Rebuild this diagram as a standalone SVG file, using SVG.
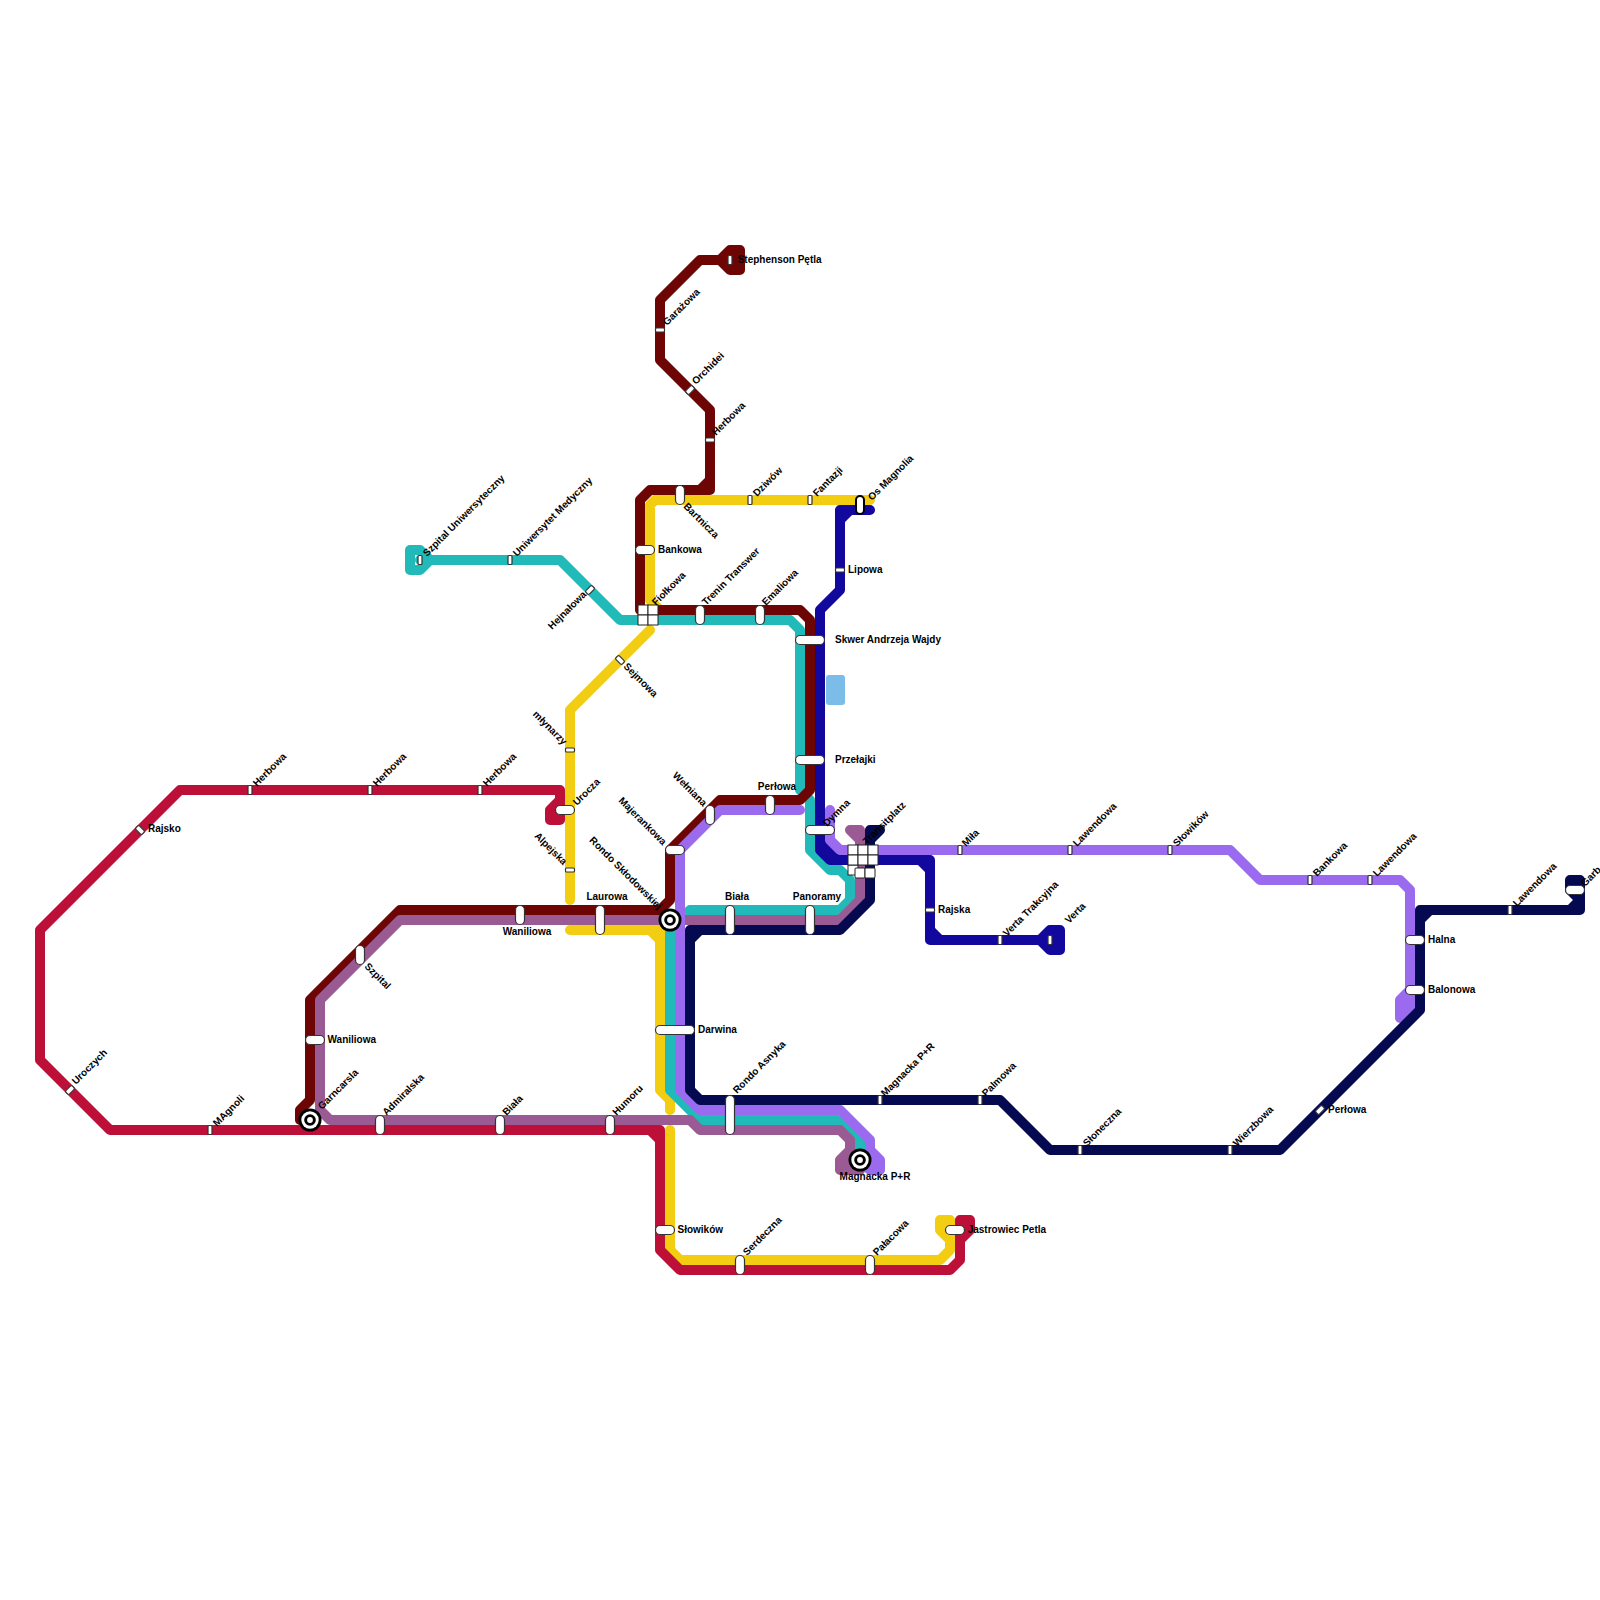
<svg xmlns="http://www.w3.org/2000/svg" width="1600" height="1600" viewBox="0 0 1600 1600">
<style>
.l{fill:none;stroke-width:10;stroke-linecap:round;stroke-linejoin:round}
.s{fill:#fff;stroke:#333;stroke-width:1.2}
.c{fill:#fff;stroke:#222;stroke-width:1}
text{font:700 10px "Liberation Sans",Arial,sans-serif;fill:#000}
.m{text-anchor:middle}
.e{text-anchor:end}
</style>
<defs>
<rect id="v" class="s" x="-2" y="-4.5" width="4" height="9" rx="1"/>
<rect id="h" class="s" x="-4.5" y="-2" width="9" height="4" rx="1"/>
<rect id="d" class="s" x="-4.5" y="-2.5" width="9" height="5" rx="1.5" transform="rotate(-45)"/>
<rect id="d2" class="s" x="-4.5" y="-2.5" width="9" height="5" rx="1.5" transform="rotate(45)"/>
<rect id="pv20" class="s" x="-4.5" y="-9.5" width="9" height="19" rx="4.5"/>
<rect id="pv30" class="s" x="-4.5" y="-14.5" width="9" height="29" rx="4.5"/>
<rect id="pv40" class="s" x="-4.5" y="-19.5" width="9" height="39" rx="4.5"/>
<rect id="ph20" class="s" x="-9.5" y="-4.5" width="19" height="9" rx="4.5"/>
<rect id="ph30" class="s" x="-14.5" y="-4.5" width="29" height="9" rx="4.5"/>
<rect id="ph40" class="s" x="-19.5" y="-4.5" width="39" height="9" rx="4.5"/>
<g id="ic"><circle r="11.5" fill="#000"/><circle r="8.7" fill="#fff"/><circle r="5.8" fill="#000"/><circle r="2.9" fill="#fff"/></g>
</defs>
<rect width="1600" height="1600" fill="#fff"/>
<g id="connectors">
<rect x="826" y="675" width="19" height="30" rx="3" fill="#7cbce8"/>
<path class="l" stroke="#f2cd12" d="M870 500H655L650 505V600L660 610M650 630L570 710V900M570 930H660V1090L670 1100V1110M670 1130V1250L680 1260H940L950 1250V1240L940 1230V1220H950V1240M650 930L660 940"/>
<path class="l" stroke="#21bab9" d="M420 560H560L620 620H790L800 630V790L810 800V850L830 870H840L850 880V900L840 910H690L670 930V1090L700 1120H840L860 1140V1170M430 560L420 550H410V570H420L430 560"/>
<path class="l" stroke="#bc1039" d="M560 800V790H180L40 930V1060L110 1130H660V1250L680 1270H950L960 1260V1220H970V1230L960 1240M650 1130L660 1140M560 800L550 810V820H560V800"/>
<path class="l" stroke="#6d0505" d="M720 260L730 250H740V270H730L720 260H700L660 300V360L710 410V490H650L640 500V610H800L810 620V790L800 800H720L670 850V900L660 910H400L310 1000V1100L300 1110V1120H310M700 490L710 480M730 260H740"/>
<path class="l" stroke="#9a5a94" d="M850 830H860V840L850 830M860 840V900L840 920H400L320 1000V1110L330 1120H690L700 1130H840L850 1140V1150L840 1160V1170H860M850 1150V1170"/>
<path class="l" stroke="#13089e" d="M870 510H840V590L820 610V850L830 860H930V940H1040L1050 950H1060V930H1050L1040 940M840 520L850 510M920 860L930 870M930 930L940 940M1050 940H1060"/>
<polygon fill="#13089e" points="825,840 825,856 841,856"/>
<path class="l" stroke="#9b6bef" d="M830 810V840L840 850H1230L1260 880H1400L1410 890V990L1400 1000V1018L1410 1010M800 810H720L680 850V1090L700 1110H840L870 1140V1150L880 1160V1170H870L860 1160M870 1150V1170M1405 1000V1012M1410 990V1010"/>
<path class="l" stroke="#050a50" d="M880 830H870V900L840 930H690V1090L700 1100H1000L1050 1150H1280L1420 1010V910H1580V880H1570V890L1580 900M690 940L700 930M1420 920L1430 910M1570 910L1580 900M880 830L870 840"/>
</g>
<g id="nodes">
<g id="n-stephenson"><use href="#v" x="730" y="260"/><text x="737.7" y="262.5">Stephenson Pętla</text></g>
<g id="n-garazowa"><use href="#h" x="660" y="330"/><text transform="translate(667 326) rotate(-45)">Garażowa</text></g>
<g id="n-orchidei"><use href="#d" x="690" y="390"/><text transform="translate(696 385) rotate(-45)">Orchidei</text></g>
<g id="n-herbowa4"><use href="#h" x="710" y="440"/><text transform="translate(716 436) rotate(-45)">Herbowa</text></g>
<g id="n-bartnicza"><use href="#pv20" x="680" y="495"/><text transform="translate(683 507) rotate(45)">Bartnicza</text></g>
<g id="n-dziwow"><use href="#v" x="750" y="500"/><text transform="translate(757 497) rotate(-45)">Dziwów</text></g>
<g id="n-fantazji"><use href="#v" x="810" y="500"/><text transform="translate(817 497) rotate(-45)">Fantazji</text></g>
<g id="n-osmagnolia"><rect x="856" y="496" width="8" height="18" rx="4" fill="#fff" stroke="#000" stroke-width="2"/><text transform="translate(872 501) rotate(-45)">Os Magnolia</text></g>
<g id="n-lipowa"><use href="#h" x="840" y="570"/><text x="848" y="572.5">Lipowa</text></g>
<g id="n-bankowa"><use href="#ph20" x="645" y="550"/><text x="658" y="552.5">Bankowa</text></g>
<g id="n-fiolkowa"><rect class="c" x="638" y="605" width="10" height="10"/><rect class="c" x="648" y="605" width="10" height="10"/><rect class="c" x="638" y="615" width="10" height="10"/><rect class="c" x="648" y="615" width="10" height="10"/><text transform="translate(656 606) rotate(-45)">Fiołkowa</text></g>
<g id="n-trenin"><use href="#pv20" x="700" y="615"/><text transform="translate(706 606) rotate(-45)">Trenin Transwer</text></g>
<g id="n-emaliowa"><use href="#pv20" x="760" y="615"/><text transform="translate(766 606) rotate(-45)">Emaliowa</text></g>
<g id="n-skwer"><use href="#ph30" x="810" y="640"/><text x="835" y="642.5">Skwer Andrzeja Wajdy</text></g>
<g id="n-przelajki"><use href="#ph30" x="810" y="760"/><text x="835" y="762.5">Przełajki</text></g>
<g id="n-szpitaluni"><use href="#v" x="420" y="560"/><text transform="translate(427 557) rotate(-45)">Szpital Uniwersyteczny</text></g>
<g id="n-umed"><use href="#v" x="510" y="560"/><text transform="translate(517 557) rotate(-45)">Uniwersytet Medyczny</text></g>
<g id="n-hejnalowa"><use href="#d" x="590" y="590"/><text class="e" transform="translate(587 595) rotate(-45)">Hejnałowa</text></g>
<g id="n-sejmowa"><use href="#d2" x="620" y="660"/><text transform="translate(623 667) rotate(45)">Sejmowa</text></g>
<g id="n-mlynarzy"><use href="#h" x="570" y="750"/><text class="e" transform="translate(563 745.5) rotate(45)">młynarzy</text></g>
<g id="n-urocza"><use href="#ph20" x="565" y="810"/><text transform="translate(577 806) rotate(-45)">Urocza</text></g>
<g id="n-alpejska"><use href="#h" x="570" y="870"/><text class="e" transform="translate(563 865.5) rotate(45)">Alpejska</text></g>
<g id="n-laurowa"><use href="#pv30" x="600" y="920"/><text class="m" x="607" y="900">Laurowa</text></g>
<g id="n-waniliowa"><use href="#pv20" x="520" y="915"/><text class="m" x="527" y="935">Waniliowa</text></g>
<g id="n-majerankowa"><use href="#ph20" x="675" y="850"/><text class="e" transform="translate(662.4 845.6) rotate(45)">Majerankowa</text></g>
<g id="n-welniana"><use href="#pv20" x="710" y="815"/><text class="e" transform="translate(703 807) rotate(45)">Wełniana</text></g>
<g id="n-perlowa"><use href="#pv20" x="770" y="805"/><text class="m" x="777" y="790">Perłowa</text></g>
<g id="n-biala"><use href="#pv30" x="730" y="920"/><text class="m" x="737" y="900">Biała</text></g>
<g id="n-panoramy"><use href="#pv30" x="810" y="920"/><text class="m" x="817" y="900">Panoramy</text></g>
<g id="n-dymna"><use href="#ph30" x="820" y="830"/><text transform="translate(827 827) rotate(-45)">Dymna</text></g>
<g id="n-transit"><rect class="c" x="848" y="865" width="10" height="10"/><rect class="c" x="848" y="845" width="10" height="10"/><rect class="c" x="858" y="845" width="10" height="10"/><rect class="c" x="868" y="845" width="10" height="10"/><rect class="c" x="848" y="855" width="10" height="10"/><rect class="c" x="858" y="855" width="10" height="10"/><rect class="c" x="868" y="855" width="10" height="10"/><rect class="c" x="855" y="868" width="10" height="10" rx="1"/><rect class="c" x="865" y="868" width="10" height="10" rx="1"/><text transform="translate(867 845) rotate(-45)">Transitplatz</text></g>
<g id="n-mila"><use href="#v" x="960" y="850"/><text transform="translate(966 847) rotate(-45)">Miła</text></g>
<g id="n-lawendowa1"><use href="#v" x="1070" y="850"/><text transform="translate(1077 847) rotate(-45)">Lawendowa</text></g>
<g id="n-slowikow2"><use href="#v" x="1170" y="850"/><text transform="translate(1177 847) rotate(-45)">Słowików</text></g>
<g id="n-bankowa2"><use href="#v" x="1310" y="880"/><text transform="translate(1317 877) rotate(-45)">Bankowa</text></g>
<g id="n-lawendowa2"><use href="#v" x="1370" y="880"/><text transform="translate(1377 877) rotate(-45)">Lawendowa</text></g>
<g id="n-lawendowa3"><use href="#v" x="1510" y="910"/><text transform="translate(1517 907) rotate(-45)">Lawendowa</text></g>
<g id="n-garb"><use href="#ph20" x="1575" y="890"/><text transform="translate(1585 887) rotate(-45)">Garb</text></g>
<g id="n-halna"><use href="#ph20" x="1415" y="940"/><text x="1428" y="942.5">Halna</text></g>
<g id="n-balonowa"><use href="#ph20" x="1415" y="990"/><text x="1428" y="992.5">Balonowa</text></g>
<g id="n-rajska"><use href="#h" x="930" y="910"/><text x="938" y="912.5">Rajska</text></g>
<g id="n-vertat"><use href="#v" x="1000" y="940"/><text transform="translate(1007 937) rotate(-45)">Verta Trakcyjna</text></g>
<g id="n-verta"><use href="#v" x="1050" y="940"/><text transform="translate(1069 924) rotate(-45)">Verta</text></g>
<g id="n-rajsko"><use href="#d2" x="140" y="830"/><text x="148" y="832">Rajsko</text></g>
<g id="n-herbowa1"><use href="#v" x="250" y="790"/><text transform="translate(257 787) rotate(-45)">Herbowa</text></g>
<g id="n-herbowa2"><use href="#v" x="370" y="790"/><text transform="translate(377 787) rotate(-45)">Herbowa</text></g>
<g id="n-herbowa3"><use href="#v" x="480" y="790"/><text transform="translate(487 787) rotate(-45)">Herbowa</text></g>
<g id="n-uroczych"><use href="#d" x="70" y="1090"/><text transform="translate(76 1085) rotate(-45)">Uroczych</text></g>
<g id="n-magnoli"><use href="#v" x="210" y="1130"/><text transform="translate(217 1127) rotate(-45)">MAgnoli</text></g>
<g id="n-admiralska"><use href="#pv20" x="380" y="1125"/><text transform="translate(386.5 1116) rotate(-45)">Admiralska</text></g>
<g id="n-biala2"><use href="#pv20" x="500" y="1125"/><text transform="translate(506.5 1116) rotate(-45)">Biała</text></g>
<g id="n-humoru"><use href="#pv20" x="610" y="1125"/><text transform="translate(616.5 1116) rotate(-45)">Humoru</text></g>
<g id="n-waniliowa2"><use href="#ph20" x="315" y="1040"/><text x="327.5" y="1042.5">Waniliowa</text></g>
<g id="n-szpital"><use href="#pv20" x="360" y="955"/><text transform="translate(364 967) rotate(45)">Szpital</text></g>
<g id="n-darwina"><use href="#ph40" x="675" y="1030"/><text x="698" y="1032.5">Darwina</text></g>
<g id="n-asnyka"><use href="#pv40" x="730" y="1115"/><text transform="translate(737 1094) rotate(-45)">Rondo Asnyka</text></g>
<g id="n-magnackam"><use href="#v" x="880" y="1100"/><text transform="translate(885 1097) rotate(-45)">Magnacka P+R</text></g>
<g id="n-palmowa"><use href="#v" x="980" y="1100"/><text transform="translate(986 1097) rotate(-45)">Palmowa</text></g>
<g id="n-sloneczna"><use href="#v" x="1080" y="1150"/><text transform="translate(1087 1147) rotate(-45)">Słoneczna</text></g>
<g id="n-wierzbowa"><use href="#v" x="1230" y="1150"/><text transform="translate(1237 1147) rotate(-45)">Wierzbowa</text></g>
<g id="n-perlowa2"><use href="#d" x="1320" y="1110"/><text x="1328" y="1113">Perłowa</text></g>
<g id="n-slowikow"><use href="#ph20" x="665" y="1230"/><text x="677.5" y="1232.5">Słowików</text></g>
<g id="n-serdeczna"><use href="#pv20" x="740" y="1265"/><text transform="translate(747 1256) rotate(-45)">Serdeczna</text></g>
<g id="n-palacowa"><use href="#pv20" x="870" y="1265"/><text transform="translate(877 1256) rotate(-45)">Pałacowa</text></g>
<g id="n-jastrowiec"><use href="#ph20" x="955" y="1230"/><text x="967.7" y="1232.5">Jastrowiec Petla</text></g>
<g id="n-rondosklod"><use href="#ic" x="670" y="920"/><text class="e" transform="translate(658 910) rotate(45)">Rondo Skłodowskiej</text></g>
<g id="n-garncarsla"><use href="#ic" x="310" y="1120"/><text transform="translate(322 1110) rotate(-45)">Garncarsla</text></g>
<g id="n-magnacka"><use href="#ic" x="860" y="1160"/><text class="m" x="875" y="1180">Magnacka P+R</text></g>
</g>
</svg>
